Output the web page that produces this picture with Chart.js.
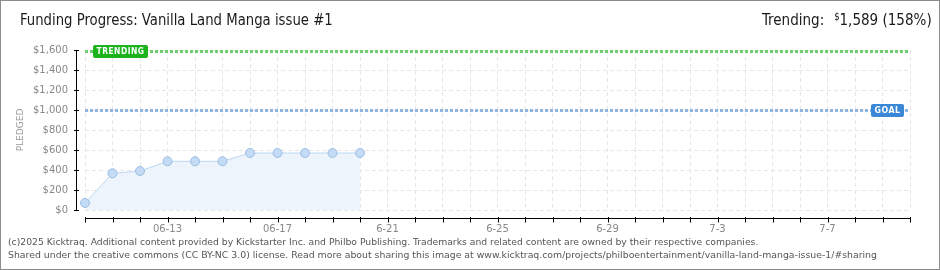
<!DOCTYPE html>
<html>
<head>
<meta charset="utf-8">
<script src="https://cdn.jsdelivr.net/npm/chart.js@4.4.1/dist/chart.umd.min.js"></script>
<style>
  body { margin: 0; background: #fff; }
  #box { position: relative; width: 940px; height: 270px; overflow: hidden; font-family: "DejaVu Sans Condensed", "DejaVu Sans", sans-serif; }
  #frame { position: absolute; left: 0; top: 0; width: 940px; height: 270px; box-sizing: border-box; border: 1px solid #8c8c8c; pointer-events: none; }
  canvas { position: absolute; left: 0; top: 0; }
  .title { position: absolute; left: 20px; top: 10px; font-size: 16px; color: #1a1a1a; white-space: nowrap; transform-origin: 0 0; }
  .trend { position: absolute; right: 8px; top: 10px; font-size: 16px; color: #1a1a1a; white-space: nowrap; transform-origin: 100% 0; }
  .trend sup { font-size: 10px; vertical-align: 5px; margin-left: 6px; }
  .foot { position: absolute; left: 8px; font-size: 9px; color: #555; white-space: nowrap; transform-origin: 0 0; }
</style>
</head>
<body>
<div id="box">
  <canvas id="pledgeChart" width="940" height="270"></canvas>
  <div class="title" id="title">Funding Progress: Vanilla Land Manga issue #1</div>
  <div class="trend" id="trend"></div>
  <div class="foot" id="foot1" style="top:237px">(c)2025 Kicktraq. Additional content provided by Kickstarter Inc. and Philbo Publishing. Trademarks and related content are owned by their respective companies.</div>
  <div class="foot" id="foot2" style="top:250px">Shared under the creative commons (CC BY-NC 3.0) license. Read more about sharing this image at www.kicktraq.com/projects/philboentertainment/vanilla-land-manga-issue-1/#sharing</div>
  <div id="frame"></div>
</div>
<script>
// campaign days 06-10 .. 07-10
var days = ['06-10','06-11','06-12','06-13','06-14','06-15','06-16','06-17','06-18','06-19','06-20',
            '06-21','06-22','06-23','06-24','06-25','06-26','06-27','06-28','06-29','06-30',
            '07-01','07-02','07-03','07-04','07-05','07-06','07-07','07-08','07-09','07-10'];
var tickDays   = ['06-13','06-17','06-21','06-25','06-29','07-03','07-07'];
var tickLabels = ['06-13','06-17','6-21','6-25','6-29','7-3','7-7'];
var pledged = [70, 367, 390, 487, 487, 487, 570, 570, 570, 570, 570];
var goal = 1000;
var trending = 1589;
var trendingPct = 158;

document.getElementById('trend').innerHTML =
  'Trending: <sup>$</sup>' + trending.toLocaleString('en-US') + ' (' + trendingPct + '%)';

function fitWidth(id, w) {
  var el = document.getElementById(id);
  el.style.transform = 'scaleX(' + (w / el.scrollWidth) + ')';
}
fitWidth('title', 313);
fitWidth('trend', 170);
fitWidth('foot1', 750);
fitWidth('foot2', 869);

function badge(ctx, text, x, y, w, color) {
  ctx.save();
  ctx.fillStyle = color;
  ctx.beginPath();
  ctx.roundRect(x, y - 6, w, 13, 2);
  ctx.fill();
  ctx.fillStyle = '#fff';
  ctx.font = 'bold 8px "DejaVu Sans"';
  ctx.letterSpacing = '0.5px';
  ctx.textBaseline = 'middle';
  ctx.textAlign = 'center';
  ctx.fillText(text, x + w / 2, y + 1, w - 7);
  ctx.restore();
}

var decor = {
  id: 'decor',
  beforeDatasetsDraw: function(chart) {
    var ctx = chart.ctx, a = chart.chartArea, y = chart.scales.y;
    ctx.save();
    ctx.lineWidth = 3;
    ctx.setLineDash([3, 2]);
    ctx.strokeStyle = '#6fcf6f';
    var ty = Math.round(y.getPixelForValue(trending)) + 0.5;
    ctx.beginPath(); ctx.moveTo(a.left, ty); ctx.lineTo(a.right, ty); ctx.stroke();
    ctx.strokeStyle = '#8fb5e0';
    var gy = Math.round(y.getPixelForValue(goal)) + 0.5;
    ctx.beginPath(); ctx.moveTo(a.left, gy); ctx.lineTo(a.right, gy); ctx.stroke();
    ctx.restore();
  },
  afterDraw: function(chart) {
    var ctx = chart.ctx, a = chart.chartArea, x = chart.scales.x, y = chart.scales.y;
    ctx.save();
    // y axis line and ticks
    var ax = a.left - 8.5;
    ctx.strokeStyle = '#000';
    ctx.lineWidth = 1;
    ctx.beginPath(); ctx.moveTo(ax, a.top); ctx.lineTo(ax, a.bottom + 1); ctx.stroke();
    y.ticks.forEach(function(t, i) {
      var py = Math.round(y.getPixelForTick(i)) + 0.5;
      ctx.beginPath();
      if (t.value % 200 === 0) {
        ctx.strokeStyle = '#000';
        ctx.moveTo(ax - 2.5, py); ctx.lineTo(ax + 2.5, py);
      } else {
        ctx.strokeStyle = '#e00';
        ctx.moveTo(ax - 3.5, py); ctx.lineTo(ax, py);
      }
      ctx.stroke();
    });
    // x axis line and ticks
    var bx = a.bottom + 8.5;
    ctx.strokeStyle = '#000';
    ctx.beginPath(); ctx.moveTo(a.left, bx); ctx.lineTo(a.right + 1, bx); ctx.stroke();
    x.ticks.forEach(function(t, i) {
      var px = Math.round(x.getPixelForTick(i)) + 0.5;
      ctx.beginPath(); ctx.moveTo(px, bx - 1.5); ctx.lineTo(px, bx + 4); ctx.stroke();
    });
    ctx.restore();
    var ty = Math.round(y.getPixelForValue(trending));
    var gy = Math.round(y.getPixelForValue(goal));
    badge(ctx, 'TRENDING', a.left + 8, ty, 55, '#1db31d');
    badge(ctx, 'GOAL', a.right - 39, gy, 33, '#3a87d8');
  }
};

var ctx = document.getElementById('pledgeChart').getContext('2d');
var chart = new Chart(ctx, {
  type: 'line',
  data: {
    labels: days,
    datasets: [{
      label: 'Pledged',
      data: pledged,
      borderColor: '#bcd6f2',
      borderWidth: 1,
      backgroundColor: '#edf4fc',
      fill: 'origin',
      tension: 0,
      pointRadius: 4.5,
      pointBackgroundColor: '#c4dbf5',
      pointBorderColor: '#9bbde3',
      pointBorderWidth: 1,
      clip: false
    }]
  },
  options: {
    responsive: false,
    animation: false,
    layout: { padding: { left: 10, top: 50, right: 30, bottom: 0 } },
    plugins: { legend: { display: false }, tooltip: { enabled: false } },
    scales: {
      x: {
        type: 'category',
        offset: false,
        grid: { color: '#e6e6e6', drawTicks: false },
        border: { display: false, dash: [4, 3] },
        ticks: {
          autoSkip: false, maxRotation: 0, padding: 13,
          color: '#888', font: { family: 'DejaVu Sans', size: 10 },
          callback: function(v, i) {
            var k = tickDays.indexOf(days[i]);
            return k >= 0 ? tickLabels[k] : '';
          }
        },
        afterFit: function(s) { s.height = 60; }
      },
      y: {
        min: 0, max: 1600,
        grid: {
          drawTicks: false,
          color: function(c) { return c.tick && c.tick.value % 200 === 0 ? '#e6e6e6' : 'rgba(0,0,0,0)'; }
        },
        border: { display: false, dash: [4, 3] },
        ticks: {
          stepSize: 100, padding: 17,
          color: '#888', font: { family: 'DejaVu Sans', size: 10 },
          callback: function(v) { return v % 200 === 0 ? '$' + v.toLocaleString('en-US') : ''; }
        },
        title: {
          display: true, text: 'PLEDGED', color: '#999',
          font: { family: 'DejaVu Sans', size: 9 },
          padding: { top: 5, bottom: 0 }
        },
        afterFit: function(s) { s.width = 75; }
      }
    }
  },
  plugins: [decor]
});
</script>
</body>
</html>
